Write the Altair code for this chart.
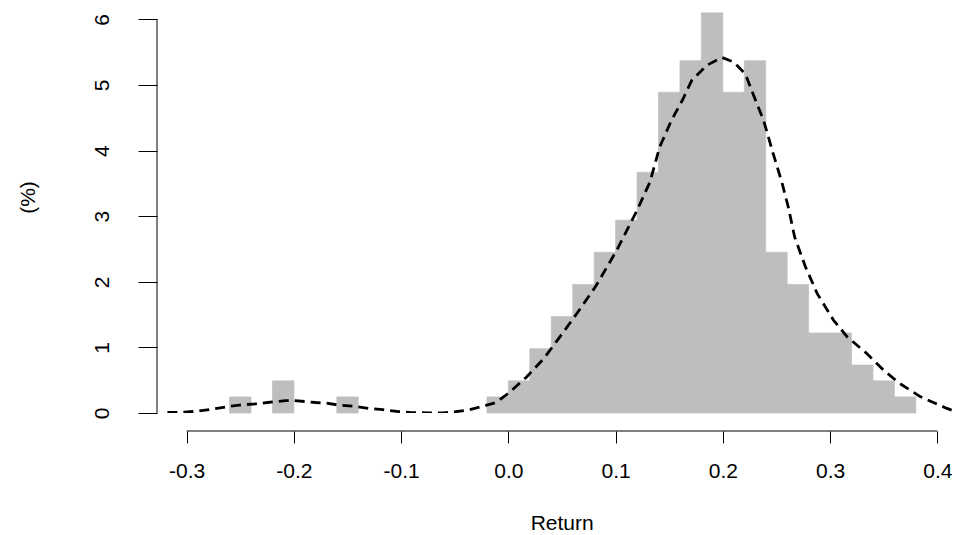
import altair as alt
import pandas as pd

# Histogram bins (left edges, width 0.02) and density heights (%)
bin_left = [-0.26, -0.22, -0.16, -0.02, 0.00, 0.02, 0.04, 0.06, 0.08, 0.10, 0.12,
            0.14, 0.16, 0.18, 0.20, 0.22, 0.24, 0.26, 0.28, 0.30, 0.32, 0.34, 0.36]
bin_height = [0.245, 0.49, 0.245, 0.245, 0.49, 0.98, 1.47, 1.96, 2.45, 2.94, 3.67,
              4.89, 5.37, 6.10, 4.89, 5.37, 2.45, 1.96, 1.22, 1.22, 0.73, 0.49, 0.245]
bin_width = 0.02

# Density curve
dens_x = [-0.318, -0.304, -0.2885, -0.276, -0.2605, -0.251, -0.2356, -0.2247, -0.2076,
          -0.1998, -0.1796, -0.170, -0.158, -0.142, -0.130, -0.117, -0.102, -0.092,
          -0.074, -0.061, -0.049, -0.036, -0.020, -0.0115, 0.000, 0.017, 0.033, 0.048,
          0.064, 0.081, 0.101, 0.120, 0.132, 0.141, 0.152, 0.162, 0.171, 0.185, 0.199,
          0.210, 0.221, 0.228, 0.238, 0.247, 0.255, 0.261, 0.267, 0.277, 0.288, 0.303,
          0.316, 0.334, 0.350, 0.365, 0.384, 0.409, 0.421]
dens_y = [0.01, 0.01, 0.03, 0.06, 0.10, 0.12, 0.14, 0.16, 0.19,
          0.19, 0.16, 0.15, 0.12, 0.10, 0.07, 0.05, 0.02, 0.01,
          0.0, 0.0, 0.02, 0.05, 0.12, 0.16, 0.30, 0.55, 0.83, 1.16,
          1.52, 1.92, 2.48, 3.09, 3.52, 4.05, 4.46, 4.76, 5.07, 5.30, 5.42,
          5.35, 5.17, 4.87, 4.46, 3.95, 3.52, 3.14, 2.68, 2.23, 1.82, 1.42,
          1.16, 0.91, 0.65, 0.45, 0.25, 0.07, 0.0]

x_ticks = [-0.3, -0.2, -0.1, 0.0, 0.1, 0.2, 0.3, 0.4]
y_ticks = [0, 1, 2, 3, 4, 5, 6]

FONT = "Liberation Sans"

hist_df = pd.DataFrame({
    "left": bin_left,
    "right": [b + bin_width for b in bin_left],
    "h": bin_height,
})
dens_df = pd.DataFrame({"x": dens_x, "y": dens_y})
xline_df = pd.DataFrame({"a": [x_ticks[0]], "b": [x_ticks[-1]]})
yline_df = pd.DataFrame({"a": [y_ticks[0]], "b": [y_ticks[-1]]})

xscale = alt.Scale(domain=[-0.3277, 0.4137], nice=False, zero=False)
yscale = alt.Scale(domain=[0, 6.174], nice=False, zero=False)

xaxis = alt.Axis(
    values=x_ticks,
    labelExpr="datum.value < 0 ? '-' + format(-datum.value, '.1f') : format(datum.value, '.1f')",
    domain=False, grid=False, offset=18,
    tickSize=12, tickColor="black", tickWidth=1,
    labelFont=FONT, labelFontSize=21, labelColor="black",
    labelPadding=34, labelBaseline="alphabetic", labelAlign="center",
    labelFlush=False, labelOverlap=False,
    title="Return", titleFont=FONT, titleFontSize=21, titleFontWeight="normal",
    titleColor="black", titleX=404.7, titleY=98, titleAlign="center",
    titleBaseline="alphabetic", titleAnchor="start",
)
yaxis = alt.Axis(
    values=y_ticks, format="d",
    domain=False, grid=False,
    tickSize=19, tickColor="black", tickWidth=1,
    labelFont=FONT, labelFontSize=21, labelColor="black",
    labelAngle=270, labelAlign="center", labelBaseline="alphabetic",
    labelPadding=30, labelFlush=False, labelOverlap=False,
    title="(%)", titleFont=FONT, titleFontSize=21, titleFontWeight="normal",
    titleColor="black", titleAngle=270, titleX=-129, titleY=189,
    titleAlign="center", titleBaseline="middle", titleAnchor="start",
)

bars = alt.Chart(hist_df).mark_rect(
    color="#bebebe", stroke="#bebebe", strokeWidth=0.7
).encode(
    x=alt.X("left:Q", scale=xscale, axis=xaxis),
    x2="right:Q",
    y=alt.Y("h:Q", scale=yscale, axis=yaxis),
    y2=alt.datum(0),
)

dens = alt.Chart(dens_df).mark_line(
    color="black", strokeWidth=2.8, strokeDash=[10, 6], clip=True
).encode(
    x=alt.X("x:Q", scale=xscale),
    y=alt.Y("y:Q", scale=yscale),
)

xline = alt.Chart(xline_df).mark_rule(color="black", strokeWidth=1).encode(
    x=alt.X("a:Q", scale=xscale), x2="b:Q", y=alt.value(423)
)
yline = alt.Chart(yline_df).mark_rule(color="black", strokeWidth=1).encode(
    y=alt.Y("a:Q", scale=yscale), y2="b:Q", x=alt.value(0)
)

chart = alt.layer(bars, dens, xline, yline).properties(
    width=795, height=405,
    autosize=alt.AutoSizeParams(type="none"),
    padding={"left": 149, "top": 0, "right": 0, "bottom": 122},
    background="white",
).configure_view(stroke=None)

chart.save("out.html", embed_options={"renderer": "svg", "actions": False})
